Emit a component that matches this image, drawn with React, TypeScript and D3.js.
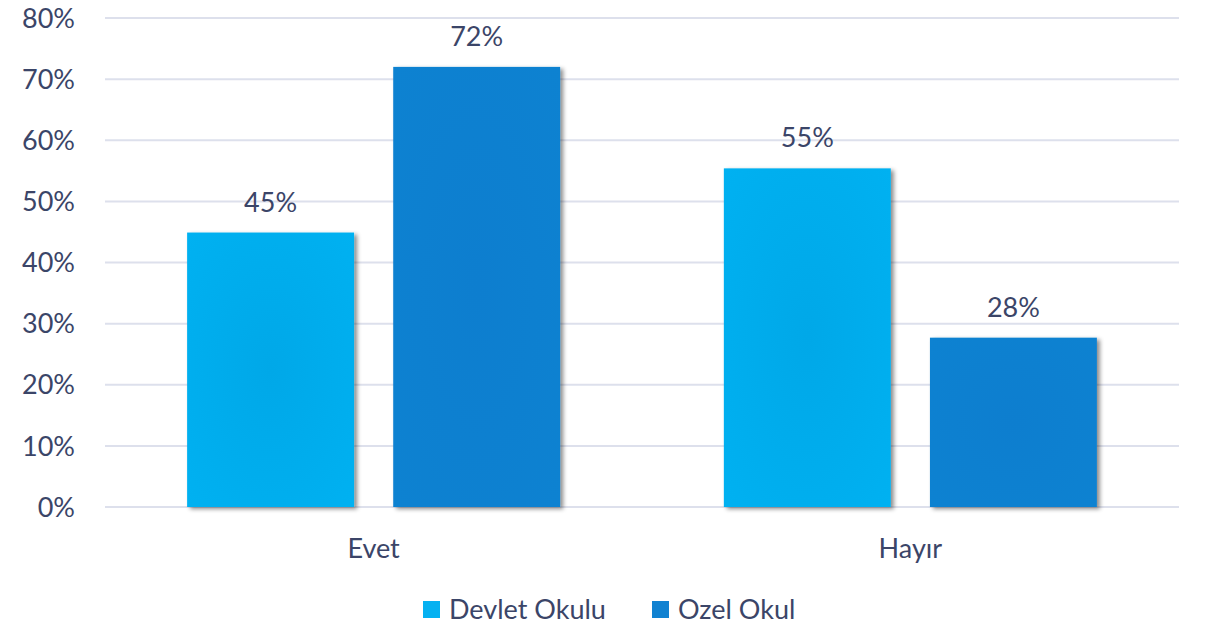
import React, { useEffect, useRef } from 'react';
import * as d3 from 'd3';

const categories = ['Evet', 'Hayır'];
const seriesNames = ['Devlet Okulu', 'Ozel Okul'];
const devletValues = [0.449, 0.554];
const ozelValues = [0.72, 0.277];
const valueLabels = [['45%', '72%'], ['55%', '28%']];
const yTicks = [0, 0.1, 0.2, 0.3, 0.4, 0.5, 0.6, 0.7, 0.8];

const WIDTH = 1207;
const HEIGHT = 626;
const TEXT = '#3B4568';
const FONT = 'Lato, "Open Sans", sans-serif';

export default function App() {
  const ref = useRef<SVGSVGElement>(null);

  useEffect(() => {
    document.body.style.margin = '0';
    const svg = d3.select(ref.current);
    svg.selectAll('*').remove();

    // plot area
    const left = 105, right = 1179, top = 18, bottom = 507;

    const x = d3.scaleBand().domain(categories).range([left, right])
      .paddingInner(0.305).paddingOuter(0.153);
    const xs = d3.scaleBand().domain(seriesNames).range([0, x.bandwidth()])
      .paddingInner(0.19).paddingOuter(0);
    const y = d3.scaleLinear().domain([0, 0.8]).range([bottom, top]);

    const colors = ['#05B1F1', '#1182D1'];
    const centers = ['#00A8E8', '#0C7ECF'];

    const defs = svg.append('defs');
    const shadow = defs.append('filter').attr('id', 'shadow')
      .attr('x', '-10%').attr('y', '-10%').attr('width', '130%').attr('height', '130%');
    shadow.append('feDropShadow').attr('dx', 3).attr('dy', 2)
      .attr('stdDeviation', 2).attr('flood-color', '#000').attr('flood-opacity', 0.45);

    colors.forEach((c, i) => {
      const g = defs.append('radialGradient').attr('id', 'grad' + i)
        .attr('cx', '50%').attr('cy', '50%').attr('r', '70%');
      g.append('stop').attr('offset', '0%').attr('stop-color', centers[i]);
      g.append('stop').attr('offset', '100%').attr('stop-color', c);
    });

    // gridlines
    svg.append('g').selectAll('line').data(yTicks).enter().append('line')
      .attr('x1', left).attr('x2', right)
      .attr('y1', d => y(d)).attr('y2', d => y(d))
      .attr('stroke', '#DDE0EC').attr('stroke-width', 2);

    // y axis labels
    svg.append('g').selectAll('text').data(yTicks).enter().append('text')
      .attr('x', 75).attr('y', d => y(d)).attr('dy', '0.36em')
      .attr('text-anchor', 'end')
      .attr('font-family', FONT).attr('font-size', 27).attr('fill', TEXT)
      .text(d => d3.format('.0%')(d));

    const rows = categories.map((c, i) => ({
      cat: c,
      vals: [devletValues[i], ozelValues[i]],
      labels: valueLabels[i],
    }));

    const groups = svg.append('g').selectAll('g').data(rows).enter().append('g')
      .attr('transform', d => 'translate(' + x(d.cat) + ',0)');

    groups.selectAll('rect')
      .data(d => d.vals.map((v, j) => ({ v, j })))
      .enter().append('rect')
      .attr('x', d => xs(seriesNames[d.j]) as number)
      .attr('y', d => y(d.v))
      .attr('width', xs.bandwidth())
      .attr('height', d => bottom - y(d.v))
      .attr('fill', d => 'url(#grad' + d.j + ')')
      .attr('filter', 'url(#shadow)');

    groups.selectAll('text')
      .data(d => d.vals.map((v, j) => ({ v, j, label: d.labels[j] })))
      .enter().append('text')
      .attr('x', d => (xs(seriesNames[d.j]) as number) + xs.bandwidth() / 2)
      .attr('y', d => y(d.v) - 21)
      .attr('text-anchor', 'middle')
      .attr('font-family', FONT).attr('font-size', 27).attr('fill', TEXT)
      .text(d => d.label);

    // category labels
    svg.append('g').selectAll('text').data(categories).enter().append('text')
      .attr('x', d => (x(d) as number) + x.bandwidth() / 2)
      .attr('y', 558)
      .attr('text-anchor', 'middle')
      .attr('font-family', FONT).attr('font-size', 27).attr('fill', TEXT)
      .text(d => d);

    // legend
    const legendX = [423, 652];
    const legend = svg.append('g').selectAll('g').data(seriesNames).enter().append('g')
      .attr('transform', (d, i) => 'translate(' + legendX[i] + ',601)');
    legend.append('rect').attr('width', 17).attr('height', 17)
      .attr('fill', (d, i) => colors[i]);
    legend.append('text').attr('x', 26).attr('y', 18)
      .attr('font-family', FONT).attr('font-size', 27).attr('fill', TEXT)
      .text(d => d);
  }, []);

  return <svg ref={ref} width={WIDTH} height={HEIGHT} style={{ display: 'block' }} />;
}
